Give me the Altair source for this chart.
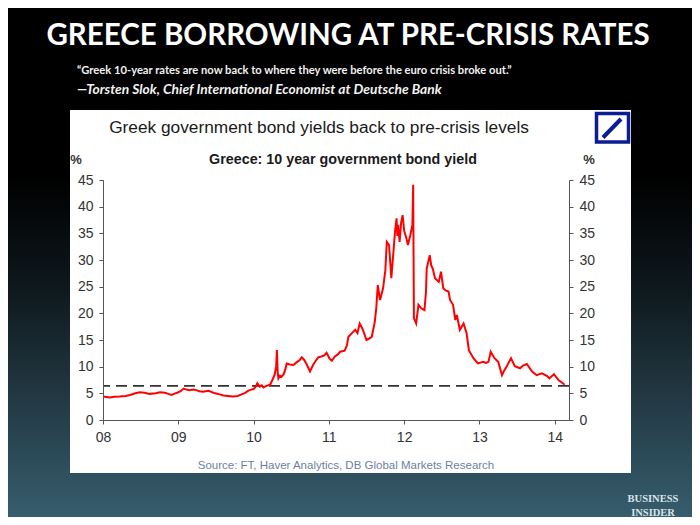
import altair as alt
import pandas as pd

# ---------------- data ----------------
years = [
    2008.00, 2008.05, 2008.09, 2008.15, 2008.22, 2008.30, 2008.36, 2008.43, 2008.49, 2008.55,
    2008.62, 2008.70, 2008.76, 2008.82, 2008.87, 2008.91, 2008.96, 2009.00, 2009.04, 2009.07,
    2009.11, 2009.15, 2009.20, 2009.24, 2009.28, 2009.33, 2009.40, 2009.45, 2009.49, 2009.55,
    2009.60, 2009.66, 2009.73, 2009.79, 2009.84, 2009.89, 2009.93, 2009.97, 2010.00, 2010.03,
    2010.05, 2010.08, 2010.11, 2010.13, 2010.17, 2010.22, 2010.25, 2010.28, 2010.30, 2010.31,
    2010.32, 2010.33, 2010.35, 2010.37, 2010.40, 2010.42, 2010.44, 2010.48, 2010.53, 2010.57,
    2010.61, 2010.64, 2010.67, 2010.70, 2010.75, 2010.79, 2010.83, 2010.86, 2010.90, 2010.94,
    2010.97, 2011.01, 2011.04, 2011.08, 2011.12, 2011.15, 2011.21, 2011.24, 2011.26, 2011.30,
    2011.35, 2011.38, 2011.41, 2011.44, 2011.46, 2011.50, 2011.54, 2011.57, 2011.61, 2011.63,
    2011.65, 2011.68, 2011.72, 2011.75, 2011.77, 2011.80, 2011.83, 2011.86, 2011.88, 2011.90,
    2011.91, 2011.92, 2011.94, 2011.96, 2011.98, 2012.00, 2012.03, 2012.05, 2012.08, 2012.10,
    2012.11, 2012.12, 2012.13, 2012.16, 2012.19, 2012.23, 2012.27, 2012.29, 2012.30, 2012.34,
    2012.36, 2012.38, 2012.41, 2012.46, 2012.49, 2012.52, 2012.55, 2012.59, 2012.61, 2012.65,
    2012.68, 2012.70, 2012.74, 2012.79, 2012.83, 2012.86, 2012.92, 2012.98, 2013.05, 2013.09,
    2013.12, 2013.15, 2013.20, 2013.25, 2013.30, 2013.33, 2013.36, 2013.42, 2013.47, 2013.54,
    2013.58, 2013.63, 2013.70, 2013.76, 2013.83, 2013.90, 2013.93, 2013.99, 2014.05, 2014.10,
    2014.13,
]
yields = [
    4.4, 4.3, 4.2, 4.35, 4.4, 4.5, 4.7, 5.0, 5.2, 5.1,
    4.9, 5.0, 5.2, 5.1, 4.9, 4.7, 5.0, 5.2, 5.5, 5.9,
    5.7, 5.6, 5.7, 5.6, 5.4, 5.3, 5.5, 5.2, 5.0, 4.8,
    4.6, 4.5, 4.4, 4.5, 4.8, 5.1, 5.5, 5.7, 5.8, 6.3,
    6.9, 6.25, 6.5, 6.1, 6.4, 6.6, 7.5, 8.5, 10.0, 13.1,
    9.0, 7.8, 8.3, 8.1, 8.6, 9.4, 10.6, 10.4, 10.3, 10.8,
    11.2, 11.75, 11.3, 10.6, 9.1, 10.3, 11.2, 11.75, 11.9, 12.1,
    12.6, 11.5, 11.1, 11.9, 12.3, 12.8, 13.0, 14.0, 15.6, 16.2,
    16.9, 16.3, 18.1, 17.3, 16.6, 15.0, 15.3, 15.6, 18.4, 21.0,
    25.3, 22.5, 24.7, 28.0, 33.4, 32.8, 26.6, 31.9, 35.5, 37.8,
    34.5, 36.6, 33.4, 37.0, 38.4, 35.5, 34.1, 32.8, 34.5, 35.9,
    36.5, 44.1, 19.1, 18.1, 21.6, 20.9, 20.6, 24.0, 28.4, 30.9,
    29.0, 28.4, 26.6, 25.9, 27.8, 24.7, 24.3, 24.1, 22.5, 21.6,
    18.75, 19.7, 16.9, 18.1, 16.25, 13.1, 11.6, 10.6, 10.9, 10.7,
    10.9, 12.8, 11.6, 10.9, 8.4, 9.3, 10.0, 11.6, 10.1, 9.7,
    10.2, 10.5, 9.1, 8.4, 8.75, 8.25, 7.8, 8.6, 7.5, 7.0,
    6.6,
]
pre_crisis_level = [6.4]
x_ticks = [2008, 2009, 2010, 2011, 2012, 2013, 2014]
y_ticks = [0, 5, 10, 15, 20, 25, 30, 35, 40, 45]

slide_title = "GREECE BORROWING AT PRE-CRISIS RATES"
quote = "\u201cGreek 10-year rates are now back to where they were before the euro crisis broke out.\u201d"
attribution = "\u2014Torsten Slok, Chief International Economist at Deutsche Bank"
panel_title = "Greek government bond yields back to pre-crisis levels"
chart_title = "Greece: 10 year government bond yield"
source = "Source: FT, Haver Analytics, DB Global Markets Research"

df = pd.DataFrame({"year": years, "yield": yields})
ref_df = pd.DataFrame({"level": pre_crisis_level})
dummy = pd.DataFrame({"d": [0]})

# ---------------- layout ----------------
PX, PY = 103, 180            # plot-area origin on the page
W, H = 466, 240              # plot area
PAD = {"left": 95, "top": 172, "right": 123, "bottom": 97}

x_scale = alt.Scale(domain=[2008, 2014.19], nice=False, zero=False)
y_scale = alt.Scale(domain=[0, 45], nice=False)

axis_common = dict(
    grid=False, title=None, tickSize=4, labelPadding=6, domainColor="#555555",
    tickColor="#555555", labelColor="#333333", labelFont="Liberation Sans",
    labelFontSize=14, labelFlush=False, zindex=1, domainWidth=1, tickWidth=1,
)


def text_layer(txt, x, y, **kw):
    return alt.Chart(dummy).mark_text(text=txt, **kw).encode(
        x=alt.value(x - PX), y=alt.value(y - PY)
    )


bg = alt.Chart(dummy).mark_rect(
    color=alt.LinearGradient(
        gradient="linear", x1=0, x2=0, y1=0, y2=1,
        stops=[
            alt.GradientStop(color="#000000", offset=0),
            alt.GradientStop(color="#000000", offset=0.33),
            alt.GradientStop(color="#0e181d", offset=0.55),
            alt.GradientStop(color="#213640", offset=0.75),
            alt.GradientStop(color="#365d6d", offset=1),
        ],
    )
).encode(
    x=alt.value(-PAD["left"]), x2=alt.value(W + PAD["right"]),
    y=alt.value(-PAD["top"]), y2=alt.value(H + PAD["bottom"]),
)

panel = alt.Chart(dummy).mark_rect(color="#ffffff").encode(
    x=alt.value(70 - PX), x2=alt.value(631 - PX),
    y=alt.value(110 - PY), y2=alt.value(473 - PY),
)

logo_box = alt.Chart(dummy).mark_rect(
    fill="#ffffff", stroke="#0b1d94", strokeWidth=3.5
).encode(
    x=alt.value(596.5 - PX), x2=alt.value(628.5 - PX),
    y=alt.value(113.5 - PY), y2=alt.value(142 - PY),
)
logo_slash = alt.Chart(dummy).mark_rule(color="#0b1d94", strokeWidth=4).encode(
    x=alt.value(603 - PX), x2=alt.value(621 - PX),
    y=alt.value(137.5 - PY), y2=alt.value(119 - PY),
)

texts = [
    text_layer(slide_title, 348, 36, font="Lato", fontSize=29.5, fontWeight="bold",
               color="#ffffff", align="center", baseline="middle"),
    text_layer(quote, 77, 71, font="Lato", fontSize=11.2, fontWeight="bold",
               color="#f2f2f2", align="left", baseline="middle"),
    text_layer(attribution, 77, 90, font="Lato", fontSize=13.8, fontWeight="bold",
               fontStyle="italic", color="#f2f2f2", align="left", baseline="middle"),
    text_layer(panel_title, 319, 128, font="Liberation Sans", fontSize=17.3,
               color="#1a1a1a", align="center", baseline="middle"),
    text_layer(chart_title, 343, 160, font="Liberation Sans", fontSize=14.3,
               fontWeight="bold", color="#1a1a1a", align="center", baseline="middle"),
    text_layer("%", 76, 160, font="Liberation Sans", fontSize=13, fontWeight="bold",
               color="#333333", align="center", baseline="middle"),
    text_layer("%", 589, 160, font="Liberation Sans", fontSize=13, fontWeight="bold",
               color="#333333", align="center", baseline="middle"),
    text_layer(source, 346, 466, font="Liberation Sans", fontSize=11.5,
               color="#6c7fa3", align="center", baseline="middle"),
    text_layer("BUSINESS", 653, 499, font="Liberation Serif", fontSize=10.5,
               fontWeight="bold", color="#dbe3e7", align="center", baseline="middle"),
    text_layer("INSIDER", 653, 513, font="Liberation Serif", fontSize=10.5,
               fontWeight="bold", color="#dbe3e7", align="center", baseline="middle"),
]

rule = alt.Chart(ref_df).mark_rule(
    strokeDash=[11, 6], color="#333333", strokeWidth=1.8
).encode(
    y=alt.Y("level:Q", scale=y_scale,
            axis=alt.Axis(orient="right", values=y_ticks, **axis_common)),
)

line = alt.Chart(df).mark_line(color="#ff0000", strokeWidth=2).encode(
    x=alt.X("year:Q", scale=x_scale,
            axis=alt.Axis(orient="bottom", values=x_ticks, format="d",
                          labelExpr="substring(toString(datum.value), 2, 4)",
                          **axis_common)),
    y=alt.Y("yield:Q", scale=y_scale,
            axis=alt.Axis(orient="left", values=y_ticks, **axis_common)),
)

chart = alt.layer(bg, panel, logo_box, logo_slash, *texts, rule, line).resolve_axis(
    y="independent"
).properties(
    width=W, height=H, padding=PAD,
    autosize=alt.AutoSizeParams(type="none"),
    background="#000000",
).configure_view(strokeWidth=0)

chart.save("out.html", embed_options={"renderer": "svg", "actions": False})
